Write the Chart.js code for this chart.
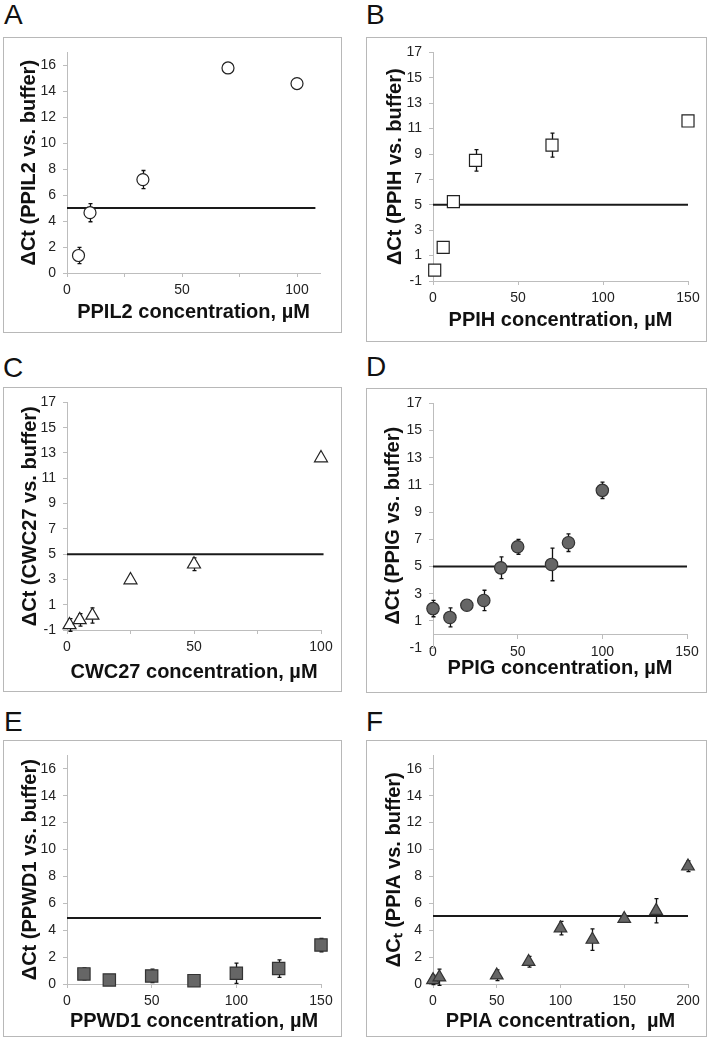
<!DOCTYPE html>
<html>
<head>
<meta charset="utf-8">
<script src="https://cdn.jsdelivr.net/npm/chart.js@4.4.0/dist/chart.umd.min.js"></script>
<style>
  body { margin: 0; background: #fff; }
  #page { position: relative; width: 709px; height: 1048px; overflow: hidden; background: #fff; }
  .box { position: absolute; border: 1.5px solid #b8b8b8; box-sizing: border-box; pointer-events: none; }
  .letter { position: absolute; font: 28px 'Liberation Sans', Arial, sans-serif; line-height: 1; color: #111; }
  canvas { position: absolute; }
</style>
</head>
<body>
<div id="page"></div>
<script>
// Panel A - PPIL2
const ppil2Conc = [5, 10, 33, 70, 100];
const ppil2Dct  = [1.35, 4.65, 7.2, 15.8, 14.6];
const ppil2Err  = [0.63, 0.7, 0.7, 0.4, 0.2];

// Panel B - PPIH
const ppihConc = [1, 6, 12, 25, 70, 150];
const ppihDct  = [-0.15, 1.65, 5.25, 8.5, 9.7, 11.6];
const ppihErr  = [0.2, 0.3, 0.3, 0.85, 0.95, 0.2];

// Panel C - CWC27
const cwc27Conc = [1, 5, 10, 25, 50, 100];
const cwc27Dct  = [-0.6, -0.2, 0.15, 2.95, 4.2, 12.6];
const cwc27Err  = [0.5, 0.5, 0.6, 0.15, 0.5, 0.15];

// Panel D - PPIG
const ppigConc = [0, 10, 20, 30, 40, 50, 70, 80, 100];
const ppigDct  = [1.9, 1.25, 2.15, 2.5, 4.9, 6.45, 5.15, 6.75, 10.6];
const ppigErr  = [0.6, 0.7, 0.3, 0.75, 0.8, 0.55, 1.2, 0.65, 0.6];

// Panel E - PPWD1
const ppwd1Conc = [10, 25, 50, 75, 100, 125, 150];
const ppwd1Dct  = [0.75, 0.3, 0.6, 0.25, 0.8, 1.15, 2.9];
const ppwd1Err  = [0.45, 0.1, 0.5, 0.35, 0.75, 0.65, 0.5];

// Panel F - PPIA
const ppiaConc = [0, 5, 50, 75, 100, 125, 150, 175, 200];
const ppiaDct  = [0.3, 0.5, 0.65, 1.65, 4.15, 3.3, 4.85, 5.45, 8.75];
const ppiaErr  = [0.35, 0.6, 0.4, 0.4, 0.5, 0.8, 0.15, 0.9, 0.4];

// threshold lines [y, xEnd]
const thresholdA = [5.0, 108];
const thresholdB = [5.0, 150];
const thresholdC = [5.0, 101];
const thresholdD = [5.0, 150];
const thresholdE = [4.9, 150];
const thresholdF = [5.05, 200];

// axis ticks
const yTicksEven = [0, 2, 4, 6, 8, 10, 12, 14, 16];
const yTicksOdd  = [-1, 1, 3, 5, 7, 9, 11, 13, 15, 17];
const xTicks100  = [0, 25, 50, 75, 100];
const xLabels100 = [0, 50, 100];
const xTicks150  = [0, 50, 100, 150];
const xTicks200  = [0, 50, 100, 150, 200];

const panels = [
  { letter: 'A', conc: ppil2Conc, dct: ppil2Dct, err: ppil2Err, thr: thresholdA,
    xMin: 0, xMax: 110, xTicks: xTicks100, xLabels: xLabels100, yMin: 0, yMax: 17, yTicks: yTicksEven,
    xTitle: 'PPIL2 concentration, µM', yTitle: 'ΔCt (PPIL2 vs. buffer)',
    marker: 'circle', filled: false, r: 6 },
  { letter: 'B', conc: ppihConc, dct: ppihDct, err: ppihErr, thr: thresholdB,
    xMin: 0, xMax: 150, xTicks: xTicks150, xLabels: xTicks150, yMin: -1, yMax: 17, yTicks: yTicksOdd,
    xTitle: 'PPIH concentration, µM', yTitle: 'ΔCt (PPIH vs. buffer)',
    marker: 'rect', filled: false, r: 8.5 },
  { letter: 'C', conc: cwc27Conc, dct: cwc27Dct, err: cwc27Err, thr: thresholdC,
    xMin: 0, xMax: 100, xTicks: xTicks100, xLabels: xLabels100, yMin: -1, yMax: 17, yTicks: yTicksOdd,
    xTitle: 'CWC27 concentration, µM', yTitle: 'ΔCt (CWC27 vs. buffer)',
    marker: 'triangle', filled: false, r: 7.5 },
  { letter: 'D', conc: ppigConc, dct: ppigDct, err: ppigErr, thr: thresholdD,
    xMin: 0, xMax: 150, xTicks: xTicks150, xLabels: xTicks150, yMin: -1, yMax: 17, yTicks: yTicksOdd,
    xTitle: 'PPIG concentration, µM', yTitle: 'ΔCt (PPIG vs. buffer)',
    marker: 'circle', filled: true, r: 6.2, xAtZero: true },
  { letter: 'E', conc: ppwd1Conc, dct: ppwd1Dct, err: ppwd1Err, thr: thresholdE,
    xMin: 0, xMax: 150, xTicks: xTicks150, xLabels: xTicks150, yMin: 0, yMax: 17, yTicks: yTicksEven,
    xTitle: 'PPWD1 concentration, µM', yTitle: 'ΔCt (PPWD1 vs. buffer)',
    marker: 'rect', filled: true, r: 8.7 },
  { letter: 'F', conc: ppiaConc, dct: ppiaDct, err: ppiaErr, thr: thresholdF,
    xMin: 0, xMax: 200, xTicks: xTicks200, xLabels: xTicks200, yMin: 0, yMax: 17, yTicks: yTicksEven,
    xTitle: 'PPIA concentration,  µM', yTitle: 'ΔCₜ (PPIA vs. buffer)',
    marker: 'triangle', filled: true, r: 7.3 }
];

// page layout: box [x, y, w, h], plot area [left, right, top, bottom]
const layouts = {
  A: { box: [3, 37, 339, 296],   area: [67, 320, 50, 273],   yTitleX: 29,  xTitleY: 312,  letter: [4, 1] },
  B: { box: [366, 37, 341, 305], area: [433, 688, 49, 281],  yTitleX: 395, xTitleY: 320,  letter: [366, 1] },
  C: { box: [3, 387, 339, 305],  area: [67, 321, 397, 630],  yTitleX: 30,  xTitleY: 672,  letter: [3, 354] },
  D: { box: [366, 388, 341, 305], area: [433, 687, 397, 648], yTitleX: 393, xTitleY: 668, letter: [366, 353], xAxisH: 59 },
  E: { box: [3, 740, 339, 297],  area: [67, 321, 753, 984],  yTitleX: 30,  xTitleY: 1021, letter: [4, 708] },
  F: { box: [366, 740, 341, 297], area: [433, 688, 753, 984], yTitleX: 394, xTitleY: 1021, letter: [366, 708] }
};

Chart.defaults.font.family = "'Liberation Sans', Arial, sans-serif";
Chart.defaults.color = '#222';

const AXIS_COLOR = '#bdbdbd';
const TITLE_FONT = { size: 20, weight: 'bold', lineHeight: 1.2 };

// Error bars, drawn under the markers
const errorBars = {
  id: 'errorBars',
  beforeDatasetsDraw(chart) {
    const { ctx, scales: { x, y } } = chart;
    chart.data.datasets.forEach(ds => {
      if (!ds.errors) return;
      ctx.save();
      ctx.strokeStyle = '#111';
      ctx.lineWidth = 1.3;
      ds.data.forEach((pt, i) => {
        const px = Math.round(x.getPixelForValue(pt.x)) + 0.5;
        const top = y.getPixelForValue(pt.y + ds.errors[i]);
        const bot = y.getPixelForValue(pt.y - ds.errors[i]);
        ctx.beginPath();
        ctx.moveTo(px, top); ctx.lineTo(px, bot);
        ctx.moveTo(px - 2, top); ctx.lineTo(px + 2, top);
        ctx.moveTo(px - 2, bot); ctx.lineTo(px + 2, bot);
        ctx.stroke();
      });
      ctx.restore();
    });
  }
};

const page = document.getElementById('page');

panels.forEach(p => {
  const lay = layouts[p.letter];
  const [bx, by, bw, bh] = lay.box;
  const [l, r, t, b] = lay.area;

  const letter = document.createElement('div');
  letter.className = 'letter';
  letter.textContent = p.letter;
  letter.style.left = lay.letter[0] + 'px';
  letter.style.top = lay.letter[1] + 'px';
  page.appendChild(letter);

  const canvas = document.createElement('canvas');
  canvas.width = bw;
  canvas.height = bh;
  canvas.style.left = bx + 'px';
  canvas.style.top = by + 'px';
  page.appendChild(canvas);

  const box = document.createElement('div');
  box.className = 'box';
  box.style.left = bx + 'px';
  box.style.top = by + 'px';
  box.style.width = bw + 'px';
  box.style.height = bh + 'px';
  page.appendChild(box);

  const yAxisW = l - bx;
  const xAxisH = lay.xAxisH || (by + bh - b);
  const halfTitle = TITLE_FONT.size * TITLE_FONT.lineHeight / 2;

  const points = p.conc.map((c, i) => ({ x: c, y: p.dct[i] }));

  new Chart(canvas, {
    type: 'scatter',
    data: {
      datasets: [
        {
          data: points,
          errors: p.err,
          pointStyle: p.marker,
          pointRadius: p.r,
          pointBackgroundColor: p.filled ? '#666' : '#fff',
          pointBorderColor: p.filled ? '#333' : '#222',
          pointBorderWidth: 1.2,
          clip: false
        },
        {
          data: [{ x: 0, y: p.thr[0] }, { x: p.thr[1], y: p.thr[0] }],
          showLine: true,
          borderColor: '#1a1a1a',
          borderWidth: 2,
          pointRadius: 0,
          clip: false
        }
      ]
    },
    options: {
      responsive: false,
      animation: false,
      devicePixelRatio: 1,
      events: [],
      layout: {
        padding: {
          left: 0,
          top: t - by,
          right: bx + bw - r,
          bottom: p.xAtZero ? (by + bh - b) : 0
        }
      },
      plugins: { legend: { display: false }, tooltip: { enabled: false } },
      scales: {
        x: {
          type: 'linear',
          position: p.xAtZero ? { y: 0 } : 'bottom',
          min: p.xMin,
          max: p.xMax,
          afterBuildTicks: s => { s.ticks = p.xTicks.map(v => ({ value: v })); },
          afterFit: s => { s.height = xAxisH; },
          ticks: {
            autoSkip: false,
            maxRotation: 0,
            padding: 5,
            font: { size: 14 },
            color: '#222',
            callback: v => p.xLabels.includes(v) ? String(v) : ''
          },
          grid: { drawOnChartArea: false, color: AXIS_COLOR, tickLength: 4 },
          border: { color: AXIS_COLOR, width: 1 },
          title: {
            display: true,
            text: p.xTitle,
            color: '#111',
            font: TITLE_FONT,
            padding: { top: 0, bottom: by + bh - lay.xTitleY - halfTitle }
          }
        },
        y: {
          type: 'linear',
          min: p.yMin,
          max: p.yMax,
          afterBuildTicks: s => { s.ticks = p.yTicks.map(v => ({ value: v })); },
          afterFit: s => { s.width = yAxisW; },
          ticks: { padding: 7, font: { size: 14 }, color: '#222' },
          grid: { drawOnChartArea: false, color: AXIS_COLOR, tickLength: 4 },
          border: { color: AXIS_COLOR, width: 1 },
          title: {
            display: true,
            text: p.yTitle,
            color: '#111',
            font: TITLE_FONT,
            padding: { top: lay.yTitleX - bx - halfTitle, bottom: 0 }
          }
        }
      }
    },
    plugins: [errorBars]
  });
});
</script>
</body>
</html>
